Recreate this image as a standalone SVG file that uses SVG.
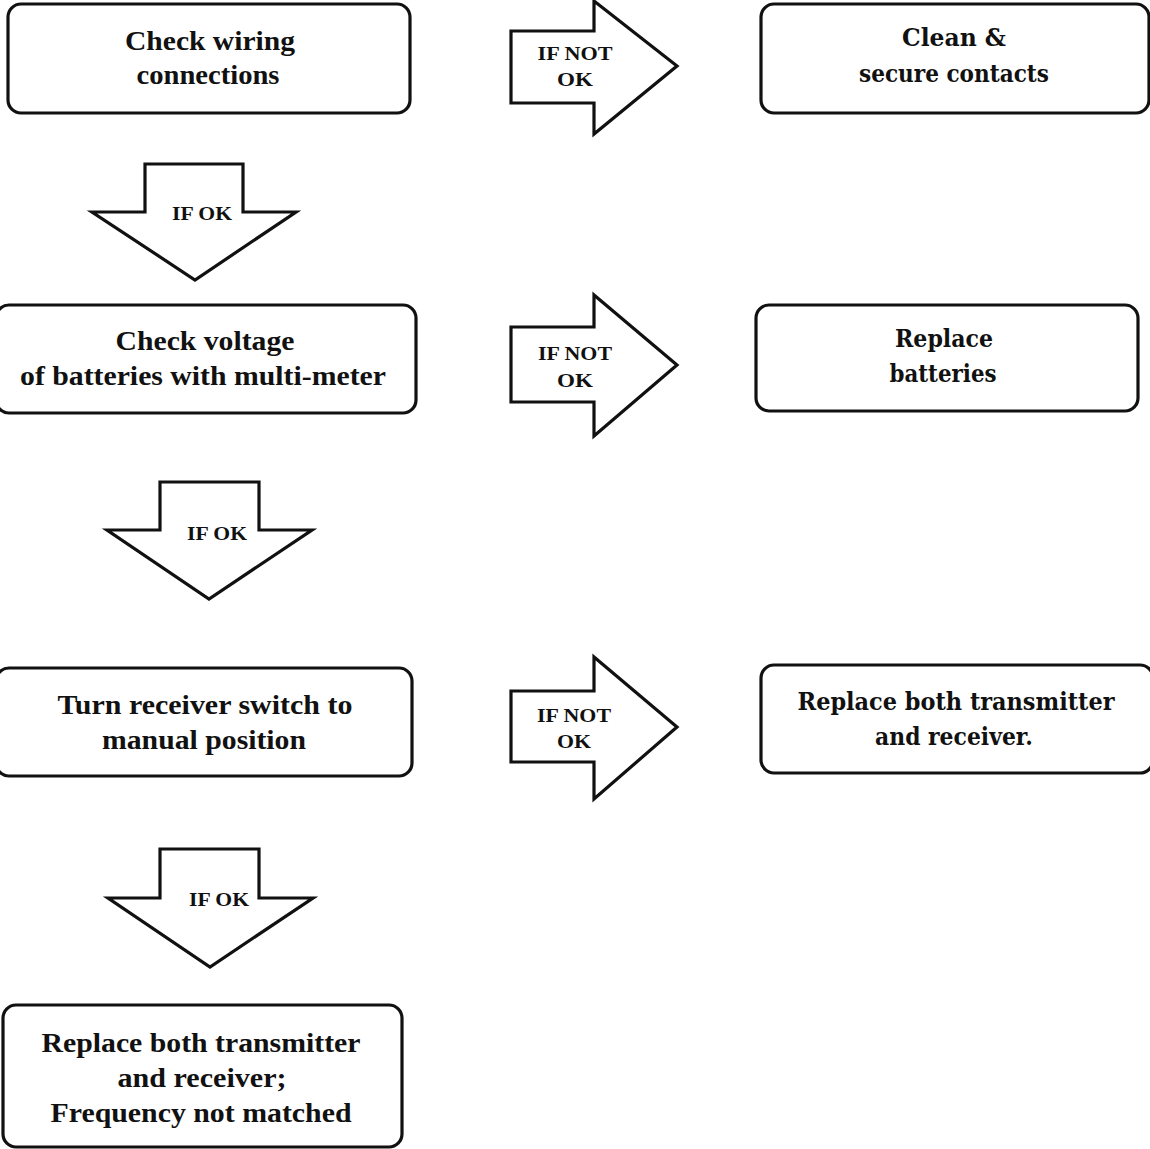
<svg xmlns="http://www.w3.org/2000/svg" width="1150" height="1149" viewBox="0 0 1150 1149">
<style>
.box{fill:#fff;stroke:#111;stroke-width:3.2}
.arr{fill:#fff;stroke:#111;stroke-width:3.2;stroke-linejoin:miter}
.t{font-family:"Liberation Serif","Times New Roman",serif;font-weight:bold;font-size:28px;fill:#111;text-anchor:middle}
.r{font-family:"DejaVu Serif","Liberation Serif",serif;font-weight:bold;font-size:25px;fill:#111;text-anchor:middle}
.l{font-family:"Liberation Serif","Times New Roman",serif;font-weight:bold;font-size:19px;fill:#111;text-anchor:middle}
</style>
<rect width="1150" height="1149" fill="#fff"/>
<g id="connectors">
<g id="c1"><path class="arr" d="M511 31 H594 V1 L677 66 L594 134 V103 H511 Z"/><text class="l" x="575" y="60" textLength="75" lengthAdjust="spacingAndGlyphs">IF NOT</text><text class="l" x="575" y="86" textLength="36" lengthAdjust="spacingAndGlyphs">OK</text></g>
<g id="c2"><path class="arr" d="M145 164 H243 V212 H296 L195 280 L92 212 H145 Z"/><text class="l" x="202" y="220" textLength="60" lengthAdjust="spacingAndGlyphs">IF OK</text></g>
<g id="c3"><path class="arr" d="M511 327 H594 V295 L677 365 L594 436 V402 H511 Z"/><text class="l" x="575" y="360" textLength="74" lengthAdjust="spacingAndGlyphs">IF NOT</text><text class="l" x="575" y="387" textLength="36" lengthAdjust="spacingAndGlyphs">OK</text></g>
<g id="c4"><path class="arr" d="M160 482 H259 V530 H312 L209 599 L107 530 H160 Z"/><text class="l" x="217" y="540" textLength="60" lengthAdjust="spacingAndGlyphs">IF OK</text></g>
<g id="c5"><path class="arr" d="M511 691 H594 V657 L677 727 L594 799 V762 H511 Z"/><text class="l" x="574" y="722" textLength="74" lengthAdjust="spacingAndGlyphs">IF NOT</text><text class="l" x="574" y="748" textLength="34" lengthAdjust="spacingAndGlyphs">OK</text></g>
<g id="c6"><path class="arr" d="M160 849 H259 V898 H313 L210 967 L108 898 H160 Z"/><text class="l" x="219" y="906" textLength="60" lengthAdjust="spacingAndGlyphs">IF OK</text></g>
</g>
<g id="n1"><rect class="box" x="8" y="4" width="402" height="109" rx="13"/><text class="t" x="210" y="50" textLength="170" lengthAdjust="spacingAndGlyphs">Check wiring</text><text class="t" x="208" y="84" textLength="143" lengthAdjust="spacingAndGlyphs">connections</text></g>
<g id="n2"><rect class="box" x="761" y="4" width="388" height="109" rx="13"/><text class="r" x="954" y="46" textLength="104" lengthAdjust="spacingAndGlyphs">Clean &amp;</text><text class="r" x="954" y="82" textLength="190" lengthAdjust="spacingAndGlyphs">secure contacts</text></g>
<g id="n3"><rect class="box" x="-4" y="305" width="420" height="108" rx="13"/><text class="t" x="205" y="350" textLength="179" lengthAdjust="spacingAndGlyphs">Check voltage</text><text class="t" x="203" y="385" textLength="366" lengthAdjust="spacingAndGlyphs">of batteries with multi-meter</text></g>
<g id="n4"><rect class="box" x="756" y="305" width="382" height="106" rx="13"/><text class="r" x="944" y="347" textLength="98" lengthAdjust="spacingAndGlyphs">Replace</text><text class="r" x="943" y="382" textLength="107" lengthAdjust="spacingAndGlyphs">batteries</text></g>
<g id="n5"><rect class="box" x="-4" y="668" width="416" height="108" rx="13"/><text class="t" x="205" y="714" textLength="295" lengthAdjust="spacingAndGlyphs">Turn receiver switch to</text><text class="t" x="204" y="749" textLength="204" lengthAdjust="spacingAndGlyphs">manual  position</text></g>
<g id="n6"><rect class="box" x="761" y="665" width="392" height="108" rx="13"/><text class="r" x="956" y="710" textLength="317" lengthAdjust="spacingAndGlyphs">Replace both transmitter</text><text class="r" x="954" y="745" textLength="158" lengthAdjust="spacingAndGlyphs">and receiver.</text></g>
<g id="n7"><rect class="box" x="3" y="1005" width="399" height="142" rx="13"/><text class="t" x="201" y="1052" textLength="319" lengthAdjust="spacingAndGlyphs">Replace both transmitter</text><text class="t" x="202" y="1087" textLength="169" lengthAdjust="spacingAndGlyphs">and receiver;</text><text class="t" x="201" y="1122" textLength="301" lengthAdjust="spacingAndGlyphs">Frequency not matched</text></g>
</svg>
